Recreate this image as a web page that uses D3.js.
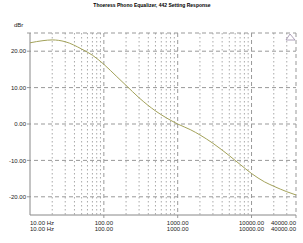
<!DOCTYPE html>
<html lang="en">
<head>
  <meta charset="UTF-8">
  <title>Thoeress Phono Equalizer</title>
  <script src="https://d3js.org/d3.v7.min.js"></script>
  <style>
    body { margin: 0; background: #fff; font-family: "Liberation Sans", Arial, sans-serif; }
    .lbl { font-size: 6px; fill: #222; }
  </style>
</head>
<body>
  <svg width="303" height="243"></svg>
  <script>
    // response curve
    const freqs = [10, 15, 20, 30, 50, 70, 100, 150, 200, 300, 500, 700, 1000, 1500, 2000, 3000, 5000, 7000, 10000, 15000, 20000, 30000, 40000];
    const levels = [22.3, 22.9, 23.1, 22.6, 20.6, 18.9, 16.4, 13.0, 10.6, 7.2, 3.6, 1.7, 0.0, -1.6, -3.0, -5.3, -8.7, -11.1, -13.6, -15.9, -17.1, -18.6, -19.5];
    const yTicks = [20, 10, 0, -10, -20];
    const xTicks = [10, 100, 1000, 10000, 40000];
    const xTickLabels = ["10.00 Hz", "100.00", "1000.00", "10000.00", "40000.00"];

    const mLeft = 30, mRight = 296, mTop = 33, mBottom = 215;
    const svg = d3.select("svg");

    const x = d3.scaleLog().domain([10, 40000]).range([mLeft, mRight]);
    const y = d3.scaleLinear().domain([-25, 25]).range([mBottom, mTop]);

    // title
    svg.append("text")
      .attr("x", 152).attr("y", 7)
      .attr("text-anchor", "middle")
      .attr("font-size", "5px").attr("font-weight", "bold")
      .text("Thoeress Phono Equalizer, 442 Setting Response");

    svg.append("text").attr("class", "lbl")
      .attr("x", 14).attr("y", 27).text("dBr");

    // vertical grid: minor dotted, decades dashed
    const minor = [];
    for (let d = 10; d < 40000; d *= 10)
      for (let k = 2; k <= 9; k++) if (d * k < 40000) minor.push(d * k);
    const decades = [100, 1000, 10000, 40000];

    svg.append("g").selectAll("line").data(minor).join("line")
      .attr("x1", d => x(d)).attr("x2", d => x(d))
      .attr("y1", mTop).attr("y2", mBottom)
      .attr("stroke", "#aaa").attr("stroke-width", 1)
      .attr("stroke-dasharray", "1.5,2.5");

    svg.append("g").selectAll("line").data(decades).join("line")
      .attr("x1", d => x(d)).attr("x2", d => x(d))
      .attr("y1", mTop).attr("y2", mBottom + 3)
      .attr("stroke", "#999").attr("stroke-width", 1)
      .attr("stroke-dasharray", "4,3");

    // horizontal grid
    svg.append("g").selectAll("line").data(yTicks.concat([25])).join("line")
      .attr("x1", mLeft - 3).attr("x2", mRight)
      .attr("y1", d => y(d)).attr("y2", d => y(d))
      .attr("stroke", "#999").attr("stroke-width", 1)
      .attr("stroke-dasharray", "4,3");

    // axes lines
    svg.append("line").attr("x1", mLeft).attr("x2", mLeft).attr("y1", mTop).attr("y2", mBottom)
      .attr("stroke", "#888");
    svg.append("line").attr("x1", mLeft).attr("x2", mRight).attr("y1", mBottom).attr("y2", mBottom)
      .attr("stroke", "#888");

    // y labels
    svg.append("g").selectAll("text").data(yTicks).join("text")
      .attr("class", "lbl")
      .attr("x", mLeft - 4).attr("y", d => y(d) + 2.2)
      .attr("text-anchor", "end")
      .text(d => d.toFixed(2));

    // x labels, two identical rows
    [224.5, 230.5].forEach(yy => {
      svg.append("g").selectAll("text").data(xTicks).join("text")
        .attr("class", "lbl")
        .attr("x", d => x(d)).attr("y", yy)
        .attr("text-anchor", (d, i) => i === 0 ? "start" : i === xTicks.length - 1 ? "end" : "middle")
        .text((d, i) => xTickLabels[i]);
    });

    // curve
    const line = d3.line()
      .x((d, i) => x(freqs[i]))
      .y(d => y(d))
      .curve(d3.curveMonotoneX);
    svg.append("path").datum(levels)
      .attr("d", line)
      .attr("fill", "none")
      .attr("stroke", "#a3a25a").attr("stroke-width", 1);

    // marker triangle at top right
    svg.append("path")
      .attr("d", "M286,40 L290,34 L295,40 Z")
      .attr("fill", "none").attr("stroke", "#9a8aa8").attr("stroke-width", 0.8);
  </script>
</body>
</html>
